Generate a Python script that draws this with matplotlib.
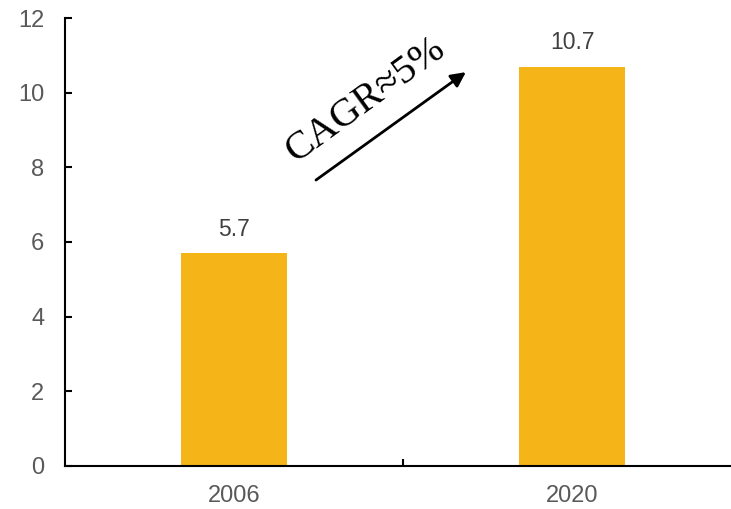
import matplotlib
matplotlib.use("Agg")
import matplotlib.pyplot as plt

years = ["2006", "2020"]
values = [5.7, 10.7]
y_ticks = [0, 2, 4, 6, 8, 10, 12]
cagr_label = "CAGR≈5%"

bar_color = "#F5B418"
tick_gray = "#595959"
label_gray = "#404040"

fig = plt.figure(figsize=(7.31, 5.09), dpi=100)
ax = fig.add_axes([65 / 731, 43 / 509, 676 / 731, 448 / 509])

x = list(range(len(years)))
bars = ax.bar(x, values, width=0.315, color=bar_color, zorder=2)

for xi, v in zip(x, values):
    ax.annotate(f"{v}", (xi, v), xytext=(0, 9), textcoords="offset points",
                ha="center", va="bottom", fontsize=16.5, color=label_gray,
                family="Liberation Sans")

ax.set_xlim(-0.5, len(years) - 0.5)
ax.set_ylim(0, 12)
ax.set_yticks(y_ticks)
ax.set_yticklabels([str(t) for t in y_ticks])
ax.set_xticks(x)
ax.set_xticklabels(years)
ax.set_xticks([0.5], minor=True)

for s in ["top", "right"]:
    ax.spines[s].set_visible(False)
for s in ["left", "bottom"]:
    ax.spines[s].set_linewidth(1.5)
    ax.spines[s].set_color("black")

ax.tick_params(axis="y", direction="in", length=5, width=1.5, pad=15,
               labelsize=17, labelcolor=tick_gray)
ax.tick_params(axis="x", which="major", length=0, pad=14,
               labelsize=17, labelcolor=tick_gray)
ax.tick_params(axis="x", which="minor", direction="in", length=5, width=1.5)
for lab in ax.get_xticklabels() + ax.get_yticklabels():
    lab.set_family("Liberation Sans")

# growth arrow with CAGR annotation
ax.annotate("", xy=(0.686, 10.55), xytext=(0.2426, 7.66),
            arrowprops=dict(arrowstyle="-|>", color="black", lw=2,
                            mutation_scale=22, shrinkA=0, shrinkB=0))
ax.text(0.3905, 9.80, cagr_label, rotation=36, ha="center", va="center",
        rotation_mode="anchor", fontsize=29, family="Liberation Serif",
        color="black")

fig.savefig("out.png", dpi=100)
